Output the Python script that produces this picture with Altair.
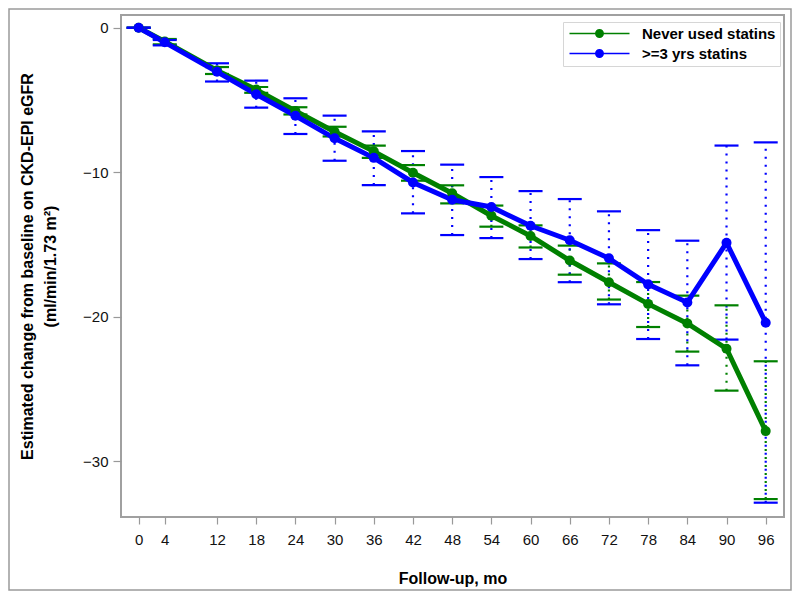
import altair as alt
import pandas as pd

months = [0, 4, 12, 18, 24, 30, 36, 42, 48, 54, 60, 66, 72, 78, 84, 90, 96]
series_names = ["Never used statins", ">=3 yrs statins"]
series_colors = ["#008000", "#0000ff"]

never_mean = [0, -0.95, -2.95, -4.28, -5.76, -7.19, -8.55, -10.03, -11.45, -13.0,
              -14.4, -16.1, -17.6, -19.1, -20.45, -22.2, -27.9]
never_lo = [0, -1.15, -3.2, -4.5, -6.0, -7.52, -9.0, -10.58, -12.15, -13.76,
            -15.2, -17.08, -18.8, -20.7, -22.4, -25.1, -32.6]
never_hi = [0, -0.78, -2.72, -4.1, -5.5, -6.85, -8.15, -9.5, -10.9, -12.3,
            -13.67, -15.07, -16.3, -17.59, -18.53, -19.2, -23.07]

statin_mean = [0, -1.01, -3.05, -4.6, -6.09, -7.65, -9.0, -10.7, -11.9, -12.4,
               -13.7, -14.7, -15.95, -17.75, -19.0, -14.87, -20.4]
statin_lo = [0, -1.22, -3.72, -5.53, -7.35, -9.2, -10.88, -12.84, -14.34, -14.55,
             -16.0, -17.6, -19.13, -21.53, -23.35, -21.57, -32.85]
statin_hi = [0, -0.85, -2.46, -3.66, -4.88, -6.08, -7.17, -8.53, -9.47, -10.33,
             -11.3, -11.85, -12.7, -14.0, -14.73, -8.15, -7.93]

rows = []
for name, m, lo, hi in [(series_names[0], never_mean, never_lo, never_hi),
                        (series_names[1], statin_mean, statin_lo, statin_hi)]:
    for i, t in enumerate(months):
        rows.append({"series": name, "group": name, "month": t,
                     "mean": m[i], "lo": lo[i], "hi": hi[i]})
df = pd.DataFrame(rows)

FONT = "Liberation Sans"
W, H = 663, 502
PAD = {"left": 113, "top": 7, "right": 8, "bottom": 74}

xs = alt.Scale(domain=[-2.7, 98.8], nice=False, zero=False)
ys = alt.Scale(domain=[-33.84, 0.88], nice=False, zero=False)

x_axis = alt.Axis(values=months, title="Follow-up, mo", grid=False, domain=False,
                  tickSize=7, tickColor="#999999", tickWidth=1.2, labelPadding=8,
                  labelFontSize=15, labelFont=FONT, labelColor="#111111",
                  labelOverlap=False, labelFlush=False,
                  titleFont=FONT, titleFontSize=16, titleFontWeight="bold",
                  titleColor="#000000", titleY=66, titleBaseline="alphabetic")
y_axis = alt.Axis(values=[0, -10, -20, -30], grid=False, domain=False,
                  title=["Estimated change from baseline on CKD-EPI eGFR", "(ml/min/1.73 m²)"],
                  tickSize=8, tickColor="#999999", tickWidth=1.2, labelPadding=5,
                  labelFontSize=15, labelFont=FONT, labelColor="#111111",
                  titleFont=FONT, titleFontSize=16, titleFontWeight="bold",
                  titleColor="#000000", titleAngle=270, titleX=-102, titleY=H / 2,
                  titleAlign="center", titleBaseline="top", titleLineHeight=23)

cscale = alt.Scale(domain=series_names, range=series_colors)

# thin line (two filled bars) with a dot in the middle
legend_path = ("M-1,-0.13H4.3V0.13H-1Z"
               "M5.7,-0.13H11V0.13H5.7Z"
               "M5.9,0A0.9,0.9,0,1,1,4.1,0A0.9,0.9,0,1,1,5.9,0Z")

base = alt.Chart(df)
X = alt.X("month:Q", scale=xs, axis=x_axis)

rules = base.mark_rule(strokeDash=[2, 6], strokeWidth=2.2).encode(
    x=X,
    y=alt.Y("lo:Q", scale=ys, axis=y_axis),
    y2="hi:Q",
    color=alt.Color("series:N", scale=cscale, legend=None),
)

caps = base.transform_fold(["lo", "hi"], as_=["bound", "val"]).mark_tick(
    orient="horizontal", size=24, thickness=2.2, opacity=1
).encode(
    x=X,
    y=alt.Y("val:Q", scale=ys),
    color=alt.Color("series:N", scale=cscale, legend=None),
)

lines = base.mark_line(strokeWidth=5).encode(
    x=X,
    y=alt.Y("mean:Q", scale=ys),
    color=alt.Color("series:N", scale=cscale, legend=None),
    detail="series:N",
)

points = base.mark_point(filled=True, size=100, opacity=1).encode(
    x=X,
    y=alt.Y("mean:Q", scale=ys),
    fill=alt.Fill("group:N", sort=series_names,
                  scale=alt.Scale(range=series_colors),
                  legend=alt.Legend(title=None, orient="none", legendX=442, legendY=7,
                                    symbolType=legend_path, symbolSize=100,
                                    symbolStrokeWidth=0, symbolStrokeColor="transparent",
                                    symbolOpacity=1, labelOffset=60,
                                    labelFont=FONT, labelFontSize=15,
                                    labelFontWeight="bold", labelColor="#000000",
                                    padding=4, rowPadding=4,
                                    fillColor="#ffffff", strokeColor="#d6d6d6")),
)

frame = alt.Chart(pd.DataFrame({"k": [0]})).mark_rect(
    fillOpacity=0, stroke="#9a9a9a", strokeWidth=1.5
).encode(
    x=alt.value(-PAD["left"] + 1), x2=alt.value(W + PAD["right"] - 1),
    y=alt.value(-PAD["top"] + 1), y2=alt.value(H + PAD["bottom"] - 1),
)

chart = alt.layer(frame, rules, caps, lines, points).properties(
    width=W, height=H, padding=PAD,
    autosize=alt.AutoSizeParams(type="none"),
    background="#ffffff",
).configure_view(stroke="#a0a0a0", strokeWidth=2)

chart.save("out.html", embed_options={"renderer": "svg", "actions": False})
